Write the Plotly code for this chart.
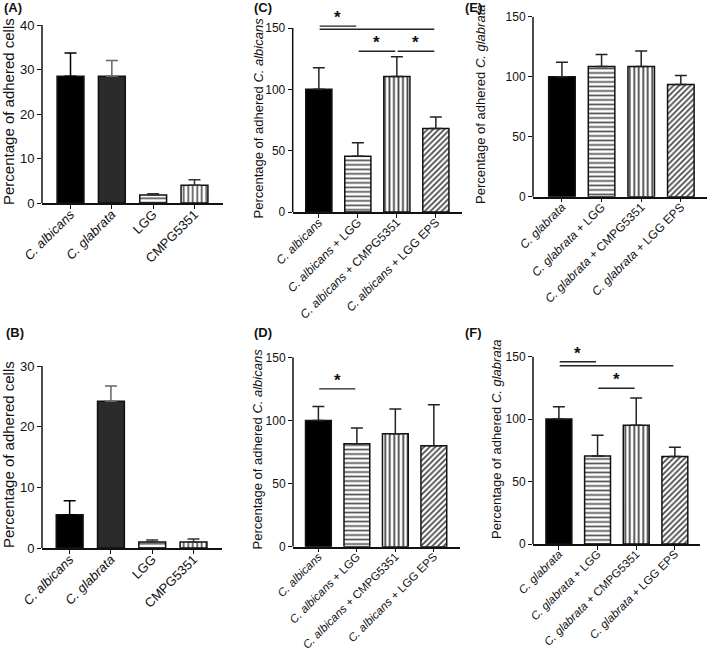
import plotly.graph_objects as go

W, H = 709, 654
FONT = "Liberation Sans, Arial, Helvetica, sans-serif"
INK = "#111111"

# ---------------- data ----------------
ab_labels = ["<i>C. albicans</i>", "<i>C. glabrata</i>", "LGG", "CMPG5351"]
a_means = [28.5, 28.5, 1.8, 4.0]
a_upper = [33.7, 32.0, 2.1, 5.2]

b_means = [5.5, 24.2, 1.0, 1.0]
b_upper = [7.8, 26.7, 1.3, 1.5]

ca_labels = ["<i>C. albicans</i>", "<i>C. albicans</i> + LGG",
             "<i>C. albicans</i> + CMPG5351", "<i>C. albicans</i> + LGG EPS"]
cg_labels = ["<i>C. glabrata</i>", "<i>C. glabrata</i> + LGG",
             "<i>C. glabrata</i> + CMPG5351", "<i>C. glabrata</i> + LGG EPS"]

c_means = [100, 45.5, 110.5, 68]
c_upper = [117.5, 56.5, 126.5, 77.5]
# significance comparisons: (group i, group j, bracket level, star shown)
c_sig = [(0, 1, 151.5, True), (0, 3, 149, False), (1, 2, 131, True), (2, 3, 131, True)]

d_means = [100, 81.5, 89.5, 80]
d_upper = [111, 94, 109, 112.5]
d_sig = [(0, 1, 125, True)]

e_means = [100, 108.5, 108.5, 93.5]
e_upper = [112, 118.5, 121.5, 101]
e_sig = []

f_means = [100, 70.5, 95, 70]
f_upper = [110, 87, 117, 77.5]
f_sig = [(0, 1, 146, True), (0, 3, 142.8, False), (1, 2, 124.7, True)]

# ---------------- styles ----------------
def solid(c):
    return dict(color=c, line=dict(color=INK, width=1.5))

def patt(shape, fg, size, sol):
    return dict(color="white", line=dict(color=INK, width=1.5),
                pattern=dict(shape=shape, fgcolor=fg, bgcolor="white",
                             size=size, solidity=sol, fillmode="replace"))

fills_ab = [solid("#000000"), solid("#2b2b2b"),
            patt("-", "#555555", 4.5, 0.38), patt("|", "#555555", 4.5, 0.38)]
fills_cf = [solid("#000000"), patt("-", "#555555", 4.5, 0.38),
            patt("|", "#444444", 4.5, 0.4), patt("/", "#444444", 4, 0.42)]
err_ab = ["#000000", "#666666", "#333333", "#333333"]
err_cf = ["#222222"] * 4


def px(x):
    return x / W


def py(y):
    return 1 - y / H


panels = [
    dict(cats=ab_labels, means=a_means, upper=a_upper, sig=[], fills=fills_ab, err=err_ab,
         xdom=[px(42), px(223)], ydom=[py(203), py(25)], xr=[-0.69, 3.69], yr=[0, 40],
         yt=[0, 10, 20, 30, 40], bw=0.65, tf=13, xtf=13, title="Percentage of adhered cells", ttf=15,
         tx=9, ty=112, letter="(A)", lx=2, ly=8),
    dict(cats=ab_labels, means=b_means, upper=b_upper, sig=[], fills=fills_ab, err=err_ab,
         xdom=[px(42), px(222)], ydom=[py(548), py(366)], xr=[-0.67, 3.69], yr=[0, 30],
         yt=[0, 10, 20, 30], bw=0.65, tf=13, xtf=13, title="Percentage of adhered cells", ttf=15,
         tx=8, ty=455, letter="(B)", lx=4, ly=333),
    dict(cats=ca_labels, means=c_means, upper=c_upper, sig=c_sig, fills=fills_cf, err=err_cf,
         xdom=[px(292.7), px(462)], ydom=[py(212), py(9.6)], xr=[-0.67, 3.67], yr=[0, 165],
         yt=[0, 50, 100, 150], bw=0.67, tf=12, xtf=12,
         title="Percentage of adhered <i>C. albicans</i>", ttf=13,
         tx=257.5, ty=118, letter="(C)", lx=252, ly=8),
    dict(cats=ca_labels, means=d_means, upper=d_upper, sig=d_sig, fills=fills_cf, err=err_cf,
         xdom=[px(293), px(460)], ydom=[py(546.7), py(357.3)], xr=[-0.66, 3.68], yr=[0, 150],
         yt=[0, 50, 100, 150], bw=0.67, tf=12, xtf=11.5,
         title="Percentage of adhered <i>C. albicans</i>", ttf=13,
         tx=256.5, ty=449, letter="(D)", lx=252, ly=333),
    dict(cats=cg_labels, means=e_means, upper=e_upper, sig=e_sig, fills=fills_cf, err=err_cf,
         xdom=[px(533), px(707)], ydom=[py(196.7), py(16.7)], xr=[-0.73, 3.66], yr=[0, 150],
         yt=[0, 50, 100, 150], bw=0.67, tf=12, xtf=12,
         title="Percentage of adhered <i>C. glabrata</i>", ttf=13,
         tx=481, ty=104, letter="(E)", lx=463, ly=8),
    dict(cats=cg_labels, means=f_means, upper=f_upper, sig=f_sig, fills=fills_cf, err=err_cf,
         xdom=[px(533), px(700)], ydom=[py(544), py(344.2)], xr=[-0.67, 3.65], yr=[0, 160],
         yt=[0, 50, 100, 150], bw=0.67, tf=12, xtf=11.5,
         title="Percentage of adhered <i>C. glabrata</i>", ttf=13,
         tx=496, ty=440, letter="(F)", lx=463, ly=333),
]

fig = go.Figure()
layout = dict(template="none", width=W, height=H, autosize=False,
              margin=dict(l=0, r=0, t=0, b=0, pad=0),
              paper_bgcolor="white", plot_bgcolor="white", barmode="overlay",
              showlegend=False, font=dict(family=FONT, color=INK))
shapes = []
annotations = []

for n, p in enumerate(panels, start=1):
    sfx = "" if n == 1 else str(n)
    xa, ya = "x" + sfx, "y" + sfx
    for k in range(4):
        fig.add_trace(go.Bar(
            x=[p["cats"][k]], y=[p["means"][k]], xaxis=xa, yaxis=ya, width=p["bw"],
            marker=p["fills"][k],
            error_y=dict(type="data", symmetric=False,
                         array=[p["upper"][k] - p["means"][k]], arrayminus=[0],
                         color=p["err"][k], thickness=1.5, width=6),
            hoverinfo="skip", showlegend=False))
    layout["xaxis" + sfx] = dict(
        domain=p["xdom"], range=p["xr"], anchor=ya, type="category", automargin=False,
        showline=True, linecolor=INK, linewidth=1.5, ticks="outside", ticklen=4,
        tickwidth=1.2, tickcolor=INK, tickangle=-45, ticklabelstandoff=-7,
        showgrid=False, zeroline=False,
        tickfont=dict(family=FONT, size=p["xtf"], color=INK))
    layout["yaxis" + sfx] = dict(
        domain=p["ydom"], range=p["yr"], anchor=xa, showline=False, automargin=False,
        ticks="outside", ticklen=4, tickwidth=1.2, tickcolor=INK,
        tickvals=p["yt"], showgrid=False, zeroline=False,
        tickfont=dict(family=FONT, size=p["tf"], color=INK))
    # y-axis line up to the top tick
    shapes.append(dict(type="line", xref=xa + " domain", yref=ya, x0=0, x1=0,
                       y0=p["yt"][0], y1=p["yt"][-1], line=dict(color=INK, width=1.5)))
    # significance brackets
    for (i, j, lvl, star) in p["sig"]:
        shapes.append(dict(type="line", xref=xa, yref=ya, x0=i + 0.02, x1=j - 0.04,
                           y0=lvl, y1=lvl, line=dict(color="#222222", width=1.4)))
        if star:
            annotations.append(dict(xref=xa, yref=ya, x=(i + j) / 2 - 0.01, y=lvl,
                                    text="<b>*</b>", showarrow=False, yanchor="bottom",
                                    yshift=-3, font=dict(family=FONT, size=17, color=INK)))
    # y title
    annotations.append(dict(xref="paper", yref="paper", x=px(p["tx"]), y=py(p["ty"]),
                            text=p["title"], textangle=-90, showarrow=False,
                            xanchor="center", yanchor="middle",
                            font=dict(family=FONT, size=p["ttf"], color=INK)))
    # panel letter
    annotations.append(dict(xref="paper", yref="paper", x=px(p["lx"]), y=py(p["ly"]),
                            text="<b>" + p["letter"] + "</b>", showarrow=False,
                            xanchor="left", yanchor="middle",
                            font=dict(family=FONT, size=13, color=INK)))

layout["shapes"] = shapes
layout["annotations"] = annotations
fig.update_layout(**layout)
fig.write_html("out.html", config={"displayModeBar": False},
               post_script="document.body.style.margin='0';document.body.style.overflow='hidden';")
